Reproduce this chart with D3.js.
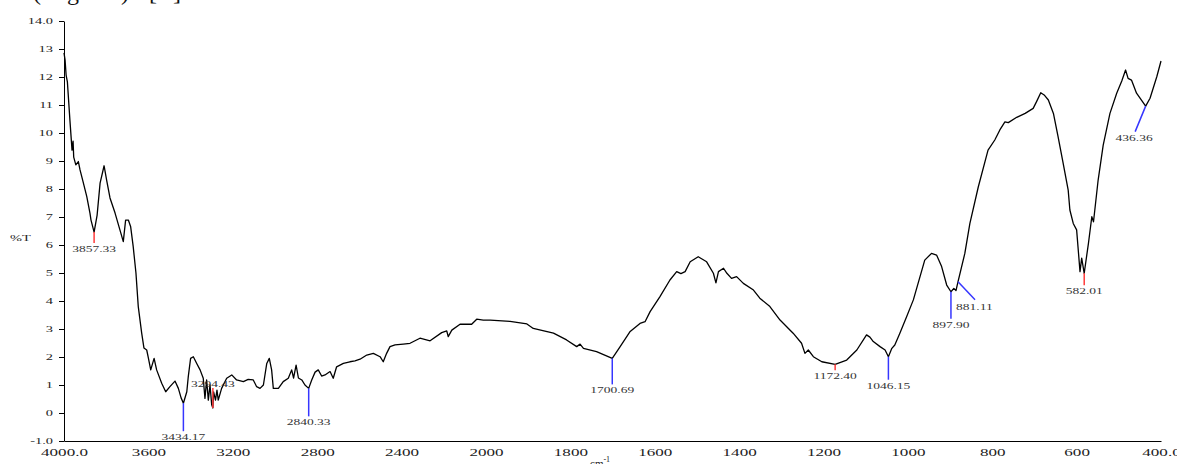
<!DOCTYPE html>
<html>
<head>
<meta charset="utf-8">
<script src="https://cdn.jsdelivr.net/npm/d3@7/dist/d3.min.js"></script>
<style>
  body { margin: 0; background: #fff; }
  svg { display: block; }
</style>
</head>
<body>
<script>
// IR spectrum (%T vs wavenumber)

// wavenumbers (cm-1), high to low
var wn = [4000, 3995, 3990, 3984, 3972, 3962, 3957, 3954, 3944, 3932,
  3924, 3908, 3892, 3877, 3872, 3857.33, 3843, 3829, 3810, 3798,
  3782, 3758, 3735, 3719, 3708, 3695, 3684, 3672, 3659, 3648,
  3632, 3621, 3608, 3600, 3589, 3573, 3561, 3537, 3518, 3498,
  3474, 3458, 3445, 3434.17, 3418, 3411, 3400, 3387, 3371, 3355,
  3340, 3332, 3324, 3316, 3308, 3300, 3294.43, 3291, 3282, 3275,
  3269, 3253, 3229, 3205, 3182, 3150, 3127, 3103, 3087, 3071,
  3055, 3039, 3027, 3016, 3008, 2984, 2961, 2937, 2921, 2912,
  2900, 2889, 2873, 2858, 2840.33, 2826, 2810, 2795, 2779, 2763,
  2739, 2724, 2708, 2676, 2645, 2621, 2597, 2565, 2534, 2502,
  2487, 2471, 2455, 2431, 2392, 2360, 2313, 2265, 2210, 2186,
  2179, 2162, 2123, 2068, 2044, 2013, 1990, 1943, 1903, 1888,
  1840, 1809, 1785, 1777, 1769, 1738, 1700.69, 1682, 1659, 1635,
  1623, 1611, 1588, 1564, 1548, 1538, 1528, 1516, 1497, 1477,
  1461, 1455, 1449, 1437, 1429, 1418, 1406, 1390, 1366, 1351,
  1327, 1303, 1272, 1252, 1244, 1236, 1224, 1204, 1172.40, 1145,
  1121, 1098, 1090, 1082, 1066, 1054, 1046.15, 1038, 1031, 1019,
  1003, 987, 960, 944, 932, 920, 908, 897.90, 891, 886,
  881.11, 865, 853, 833, 810, 794, 782, 770, 762, 742,
  722, 703, 695, 685, 677, 667, 655, 644, 632, 620,
  616, 608, 600, 592, 588, 582.01, 572, 564, 560, 549,
  537, 521, 505, 493, 484, 478, 470, 458, 436.36, 426,
  410, 400]

// transmittance (%T) at each wavenumber
var trans = [12.86, 12.61, 12.07, 11.83, 10.46, 9.39, 9.71, 9.14, 8.86, 8.98,
  8.68, 8.21, 7.73, 7.14, 6.89, 6.46, 7.07, 8.21, 8.83, 8.32,
  7.68, 7.14, 6.54, 6.12, 6.89, 6.89, 6.65, 5.94, 5.0, 3.80,
  2.86, 2.32, 2.25, 1.96, 1.54, 1.95, 1.54, 1.06, 0.76, 0.94,
  1.14, 0.88, 0.54, 0.35, 0.76, 1.30, 1.95, 2.01, 1.77, 1.54,
  1.24, 0.52, 1.18, 0.46, 1.0, 0.29, 0.18, 0.75, 0.46, 0.82,
  0.46, 0.88, 1.24, 1.36, 1.18, 1.12, 1.20, 1.18, 0.94, 0.88,
  1.0, 1.77, 1.95, 1.54, 0.88, 0.88, 1.12, 1.24, 1.54, 1.25,
  1.71, 1.25, 1.18, 1.0, 0.88, 1.18, 1.46, 1.54, 1.32, 1.36,
  1.48, 1.24, 1.65, 1.77, 1.83, 1.86, 1.92, 2.07, 2.13, 2.01,
  1.83, 2.13, 2.37, 2.43, 2.46, 2.49, 2.67, 2.58, 2.87, 2.93,
  2.73, 2.96, 3.17, 3.17, 3.35, 3.32, 3.32, 3.27, 3.18, 3.02,
  2.85, 2.61, 2.37, 2.46, 2.31, 2.19, 1.95, 2.37, 2.90, 3.20,
  3.26, 3.62, 4.15, 4.75, 5.05, 4.98, 5.05, 5.40, 5.58, 5.40,
  4.99, 4.65, 5.05, 5.17, 4.99, 4.81, 4.87, 4.63, 4.39, 4.10,
  3.80, 3.32, 2.85, 2.49, 2.13, 2.25, 2.01, 1.83, 1.74, 1.89,
  2.25, 2.79, 2.71, 2.55, 2.37, 2.25, 2.01, 2.31, 2.43, 2.85,
  3.44, 4.04, 5.46, 5.70, 5.64, 5.23, 4.57, 4.33, 4.45, 4.37,
  4.69, 5.70, 6.77, 8.08, 9.39, 9.75, 10.11, 10.40, 10.37, 10.56,
  10.70, 10.88, 11.12, 11.44, 11.36, 11.18, 10.70, 9.87, 8.92, 7.96,
  7.25, 6.77, 6.54, 5.05, 5.53, 4.99, 6.06, 7.01, 6.83, 8.32,
  9.57, 10.70, 11.42, 11.86, 12.25, 11.95, 11.89, 11.42, 10.96, 11.24,
  12.01, 12.57]

// picked peaks (flag: 'm' = red marker, 'p' = blue marker)
var peakWn = [3857.33, 3434.17, 3294.43, 2840.33, 1700.69, 1172.40, 1046.15, 897.90, 881.11, 582.01, 436.36]
var peakText = ['3857.33', '3434.17', '3294.43', '2840.33', '1700.69', '1172.40', '1046.15', '897.90', '881.11', '582.01', '436.36']
var peakFlag = ['m', 'p', 'm', 'p', 'p', 'm', 'p', 'p', 'p', 'm', 'p']

// axis ticks
var xTicks = [4000, 3600, 3200, 2800, 2400, 2000, 1800, 1600, 1400, 1200, 1000, 800, 600, 400]
var xTickText = ['4000.0', '3600', '3200', '2800', '2400', '2000', '1800', '1600', '1400', '1200', '1000', '800', '600', '400.0']
var yTicks = [-1, 0, 1, 2, 3, 4, 5, 6, 7, 8, 9, 10, 11, 12, 13, 14]
var yTickText = ['-1.0', '0', '1', '2', '3', '4', '5', '6', '7', '8', '9', '10', '11', '12', '13', '14.0']

var W = 1177
var H = 464
var SERIF = "'Liberation Serif', 'Times New Roman', serif"
var STRETCH = 'scale(1.6,1)' // the printout's labels are wide

var svg = d3.select('body').append('svg')
  .attr('width', W)
  .attr('height', H)

// spectrometer style: x expands 2x below 2000 cm-1
var x = d3.scaleLinear()
  .domain([4000, 2000, 400])
  .range([64, 486, 1161])

var y = d3.scaleLinear()
  .domain([-1, 14])
  .range([441, 21])

// caption from the page above, only its bottom shows
svg.append('text')
  .attr('x', 33)
  .attr('y', 0)
  .style('font-family', SERIF)
  .style('font-size', '24px')
  .style('letter-spacing', '2px')
  .style('word-spacing', '10px')
  .attr('fill', '#111')
  .text('(Fig. 1) [1]')

// y axis
var yAxis = d3.axisLeft(y)
  .tickValues(yTicks)
  .tickSize(5)
  .tickSizeOuter(0)
  .tickFormat(function (d, i) { return yTickText[i] })

var gy = svg.append('g')
  .attr('transform', 'translate(64,0)')
  .call(yAxis)
gy.selectAll('text')
  .attr('x', -11 / 1.6)
  .attr('transform', STRETCH)
  .style('font-family', SERIF)
  .style('font-size', '9px')
  .attr('fill', '#222')

// x axis
var xAxis = d3.axisBottom(x)
  .tickValues(xTicks)
  .tickSize(0)
  .tickSizeOuter(0)
  .tickPadding(7)
  .tickFormat(function (d, i) { return xTickText[i] })

var gx = svg.append('g')
  .attr('transform', 'translate(0,441)')
  .call(xAxis)
gx.selectAll('text')
  .attr('transform', 'scale(1.55,1)')
  .style('font-family', SERIF)
  .style('font-size', '11px')
  .attr('fill', '#222')

svg.selectAll('.domain').attr('stroke', '#000').attr('stroke-width', 1)
svg.selectAll('.tick line').attr('stroke', '#000')

// axis titles
svg.append('g')
  .attr('transform', 'translate(10,241)')
  .append('text')
  .attr('transform', STRETCH)
  .style('font-family', SERIF)
  .style('font-size', '9px')
  .attr('fill', '#222')
  .text('%T')

var cm = svg.append('text')
  .attr('x', 590)
  .attr('y', 467)
  .style('font-family', SERIF)
  .style('font-size', '11px')
  .attr('fill', '#222')
cm.append('tspan').text('cm')
cm.append('tspan').attr('dy', -5).style('font-size', '8px').text('-1')

// the spectrum
var line = d3.line()
  .x(function (d) { return x(d) })
  .y(function (d, i) { return y(trans[i]) })

svg.append('path')
  .attr('d', line(wn))
  .attr('fill', 'none')
  .attr('stroke', '#000')
  .attr('stroke-width', 1.3)
  .attr('stroke-linejoin', 'round')

// leader lines [dx, dy] from the trace, and where the label sits
var leader = {
  '3857.33': [0, 11],
  '3434.17': [0, 28],
  '3294.43': [0, -20],
  '2840.33': [0, 28],
  '1700.69': [0, 26],
  '1172.40': [0, 6],
  '1046.15': [0, 23],
  '897.90': [0, 27],
  '881.11': [17, 18],
  '582.01': [0, 12],
  '436.36': [-10.5, 25.5]
}

peakWn.forEach(function (p, i) {
  var k = wn.indexOf(p)
  var px = x(p)
  var py = y(trans[k])
  var off = leader[peakText[i]]
  var ex = px + off[0]
  var ey = py + off[1]
  svg.append('line')
    .attr('x1', px).attr('y1', py)
    .attr('x2', ex).attr('y2', ey)
    .attr('stroke', peakFlag[i] === 'm' ? '#ff3b3b' : '#3636ff')
    .attr('stroke-width', 1.5)

  var lx = ex
  var ly = off[1] < 0 ? ey - 1 : ey + 9
  var anchor = 'middle'
  if (peakText[i] === '881.11') { lx = ex - 19; ly = ey + 10; anchor = 'start' }
  if (peakText[i] === '436.36') { lx = ex - 1 }

  svg.append('g')
    .attr('transform', 'translate(' + lx + ',' + ly + ')')
    .append('text')
    .attr('transform', 'scale(1.5,1)')
    .attr('text-anchor', anchor)
    .style('font-family', SERIF)
    .style('font-size', '9px')
    .attr('fill', '#333')
    .text(peakText[i])
})
</script>
</body>
</html>
